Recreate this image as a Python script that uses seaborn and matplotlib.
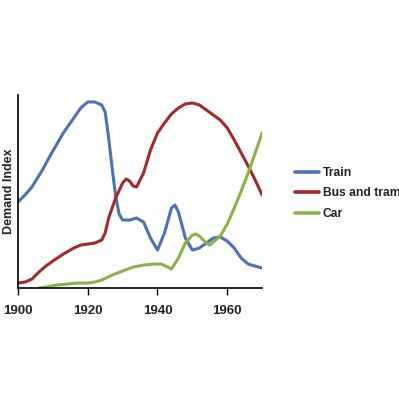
import pandas as pd
import numpy as np
import matplotlib
matplotlib.use("Agg")
import matplotlib.pyplot as plt
import seaborn as sns

# ==========================================================
# DATA
# ==========================================================

train_years = [1900, 1902, 1904, 1907, 1910, 1913, 1916, 1918, 1920, 1922,
               1924, 1925, 1926, 1927, 1928, 1929, 1930, 1932, 1934, 1936,
               1938, 1940, 1942, 1944, 1945, 1946, 1948, 1950, 1952, 1954,
               1956, 1958, 1960, 1962, 1964, 1966, 1968, 1970]
train_vals = [86, 93, 101, 118, 137, 155, 170, 180, 186, 186,
              183, 176, 150, 120, 92, 74, 68, 68, 70, 66,
              50, 38, 55, 80, 83, 76, 50, 38, 40, 45,
              50, 51, 47, 40, 30, 24, 22, 20]

bus_years = [1900, 1902, 1904, 1906, 1908, 1910, 1913, 1916, 1918, 1920,
             1922, 1924, 1925, 1926, 1928, 1930, 1931, 1932, 1933, 1934,
             1936, 1938, 1940, 1942, 1944, 1946, 1948, 1950, 1952, 1954,
             1956, 1958, 1960, 1962, 1964, 1966, 1968, 1970]
bus_vals = [5, 6, 9, 16, 22, 27, 34, 40, 43, 44,
            45, 48, 55, 70, 90, 105, 109, 107, 102, 101,
            115, 138, 155, 165, 174, 180, 184, 185, 183, 178,
            173, 168, 160, 148, 135, 122, 108, 93]

car_years = [1906, 1908, 1911, 1914, 1917, 1920, 1922, 1924, 1927, 1930,
             1933, 1936, 1939, 1941, 1943, 1944, 1946, 1948, 1950, 1951,
             1952, 1954, 1955, 1956, 1958, 1960, 1962, 1964, 1966, 1968,
             1970]
car_vals = [0, 1, 3, 4, 5, 5, 6, 8, 13, 17,
            21, 23, 24, 24, 21, 19, 30, 45, 53, 54,
            52, 45, 43, 46, 52, 64, 80, 97, 115, 135,
            155]

series_names = ["Train", "Bus and tram", "Car"]
colors = ["#4d71b6", "#a3292b", "#8db146"]
x_ticks = [1900, 1920, 1940, 1960]

# ==========================================================
# LONG TABLE
# ==========================================================

df = pd.concat([
    pd.DataFrame({"Year": train_years, "Demand": train_vals, "Mode": "Train"}),
    pd.DataFrame({"Year": bus_years, "Demand": bus_vals, "Mode": "Bus and tram"}),
    pd.DataFrame({"Year": car_years, "Demand": car_vals, "Mode": "Car"}),
], ignore_index=True)

# ==========================================================
# PLOT
# ==========================================================

sns.set_style("white")
plt.rcParams["font.family"] = ["Liberation Sans", "DejaVu Sans"]

fig = plt.figure(figsize=(3.99, 3.99), dpi=100)
ax = fig.add_axes([0.045, 0.278, 0.612, 0.484])

sns.lineplot(
    data=df,
    x="Year",
    y="Demand",
    hue="Mode",
    hue_order=series_names,
    palette=colors,
    linewidth=2.2,
    ax=ax
)

ax.set_xlim(1900, 1970)
ax.set_ylim(0, 193)
ax.set_xticks(x_ticks)
ax.set_xticklabels([str(t) for t in x_ticks], fontweight="bold", fontsize=9.5, color="#222222")
ax.set_yticks([])
ax.set_xlabel("")
ax.set_ylabel("Demand Index", fontweight="bold", fontsize=9, color="#222222", labelpad=2)

ax.tick_params(axis="x", direction="out", length=5, width=1, color="black", pad=7, bottom=True)

for side in ["top", "right"]:
    ax.spines[side].set_visible(False)
for side in ["left", "bottom"]:
    ax.spines[side].set_color("black")
    ax.spines[side].set_linewidth(1.2)

leg = ax.legend(
    loc="center left",
    bbox_to_anchor=(1.09, 0.49),
    frameon=False,
    fontsize=8.7,
    handlelength=2.0,
    handletextpad=0.3,
    labelspacing=0.72
)
for t in leg.get_texts():
    t.set_fontweight("bold")
    t.set_color("#222222")
for h in leg.get_lines():
    h.set_linewidth(2.6)

fig.savefig("out.png", dpi=100)
